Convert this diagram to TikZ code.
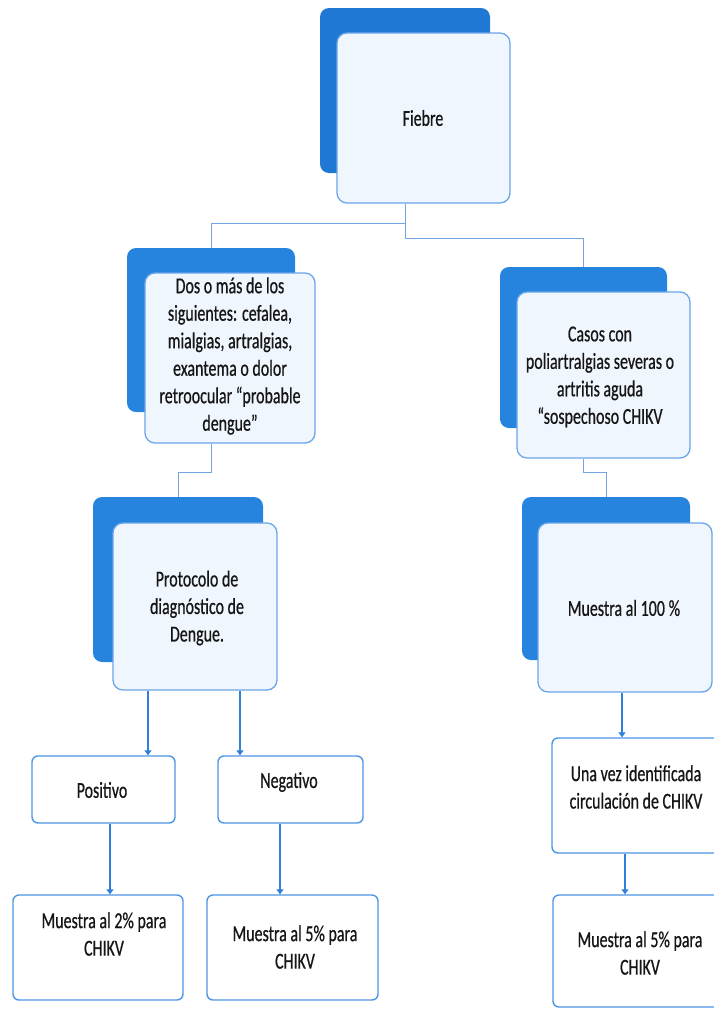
\documentclass[tikz,border=0pt]{standalone}
\usepackage{fontspec}
\setmainfont{Carlito}[FakeStretch=0.7]
\newfontfamily\boxfont{Carlito}[FakeStretch=0.7,FakeBold=0.6]
\usetikzlibrary{arrows.meta}

\definecolor{backblue}{HTML}{2784DE}
\definecolor{backdeep}{HTML}{1F78D4}
\definecolor{frontfill}{HTML}{F0F6FD}
\definecolor{frontline}{HTML}{6AA6EA}
\definecolor{boxline}{HTML}{4D95E6}
\definecolor{linkblue}{HTML}{72A5E4}
\definecolor{arrblue}{HTML}{2F80D8}
\definecolor{inkdark}{HTML}{161616}

\tikzset{
  backcard/.style={fill=backblue, draw=none, rounded corners=9pt, inner sep=0pt},
  frontcard/.style={fill=frontfill, draw=frontline, line width=1.3pt, rounded corners=10pt, inner sep=0pt},
  plainbox/.style={fill=white, draw=boxline, line width=1.4pt, rounded corners=6pt, inner sep=0pt},
  label/.style={font=\boxfont\fontsize{22.8}{27.5}\selectfont, text=inkdark, align=center, inner sep=0pt},
  link/.style={draw=linkblue, line width=0.9pt},
  flowarrow/.style={draw=arrblue, line width=2.4pt, -{Triangle[width=7pt,length=5pt]}},
}

\begin{document}
\begin{tikzpicture}[x=1pt,y=-1pt]
  \useasboundingbox (0,0) rectangle (714,1010);
  \clip (0,0) rectangle (714,1010);

  % stacked cards: dark back card, light front card
  \node[backcard, fill=backdeep, minimum width=170pt, minimum height=165pt] (fiebreB) at (405,90.5) {};
  \node[frontcard, minimum width=173pt, minimum height=170pt] (fiebreF) at (423.5,118) {};
  \node[label] (tFiebre) at (423,118) {Fiebre};

  \node[backcard, minimum width=168pt, minimum height=164pt] (dosB) at (211,330) {};
  \node[frontcard, minimum width=170pt, minimum height=170pt] (dosF) at (230,358) {};
  \node[label] (tDos) at (230,356) {Dos o más de los\\siguientes: cefalea,\\mialgias, artralgias,\\exantema o dolor\\retroocular “probable\\dengue”};

  \node[backcard, minimum width=167pt, minimum height=161pt] (casosB) at (583.5,347.5) {};
  \node[frontcard, minimum width=173pt, minimum height=166pt] (casosF) at (603.5,375) {};
  \node[label] (tCasos) at (600,377) {Casos con\\poliartralgias severas o\\artritis aguda\\“sospechoso CHIKV};

  \node[backcard, minimum width=170pt, minimum height=165pt] (protB) at (178,579.5) {};
  \node[frontcard, minimum width=164pt, minimum height=167pt] (protF) at (195,606.5) {};
  \node[label] (tProt) at (197,608) {Protocolo de\\diagnóstico de\\Dengue.};

  \node[backcard, minimum width=168pt, minimum height=163pt] (m100B) at (606,578.5) {};
  \node[frontcard, minimum width=174pt, minimum height=169pt] (m100F) at (625,607.5) {};
  \node[label] (tM100) at (624,608) {Muestra al 100\,\%};

  % result boxes
  \node[plainbox, minimum width=143pt, minimum height=67pt] (posi) at (103.5,789.5) {};
  \node[label] (tPosi) at (102,790) {Positivo};
  \node[plainbox, minimum width=145pt, minimum height=67pt] (nega) at (290.5,789.5) {};
  \node[label] (tNega) at (289,782) {Negativo};
  \node[plainbox, minimum width=170pt, minimum height=115pt] (vez) at (637,795.5) {};
  \node[label] (tVez) at (636,787) {Una vez identificada\\circulación de CHIKV};

  \node[plainbox, minimum width=170pt, minimum height=105pt] (m2) at (98,947.5) {};
  \node[label] (tM2) at (104,934) {Muestra al 2\% para\\CHIKV};
  \node[plainbox, minimum width=171pt, minimum height=105pt] (m5) at (292.5,947.5) {};
  \node[label] (tM5) at (295,947) {Muestra al 5\% para\\CHIKV};
  \node[plainbox, minimum width=170pt, minimum height=112pt] (m5r) at (638,951) {};
  \node[label] (tM5r) at (640,953) {Muestra al 5\% para\\CHIKV};

  % thin elbow links between the stacked cards
  \coordinate (j1) at (405,238);
  \coordinate (j2) at (405,223);
  \coordinate (j3) at (178,472);
  \coordinate (j4) at (606,472);
  \draw[link] (fiebreF.south -| j1) -- (j1) -| (casosB.north);
  \draw[link] (j2) -| (dosB.north);
  \draw[link] (dosF.south -| dosB.north) |- (j3) -- (protB.north);
  \draw[link] (casosF.south -| casosB.north) |- (j4) -- (m100B.north);

  % bold arrows down to the result boxes
  \coordinate (a1) at ([xshift=-47pt]protF.south);
  \coordinate (a2) at ([xshift=45pt]protF.south);
  \coordinate (a3) at ([xshift=6.5pt]posi.south);
  \coordinate (a4) at ([xshift=-10.5pt]nega.south);
  \coordinate (a5) at ([xshift=-3pt]m100F.south);
  \coordinate (a6) at ([xshift=-12pt]vez.south);
  \draw[flowarrow] (a1) -- (a1 |- posi.north);
  \draw[flowarrow] (a2) -- (a2 |- nega.north);
  \draw[flowarrow] (a3) -- (a3 |- m2.north);
  \draw[flowarrow] (a4) -- (a4 |- m5.north);
  \draw[flowarrow] (a5) -- (a5 |- vez.north);
  \draw[flowarrow] (a6) -- (a6 |- m5r.north);
\end{tikzpicture}
\end{document}
